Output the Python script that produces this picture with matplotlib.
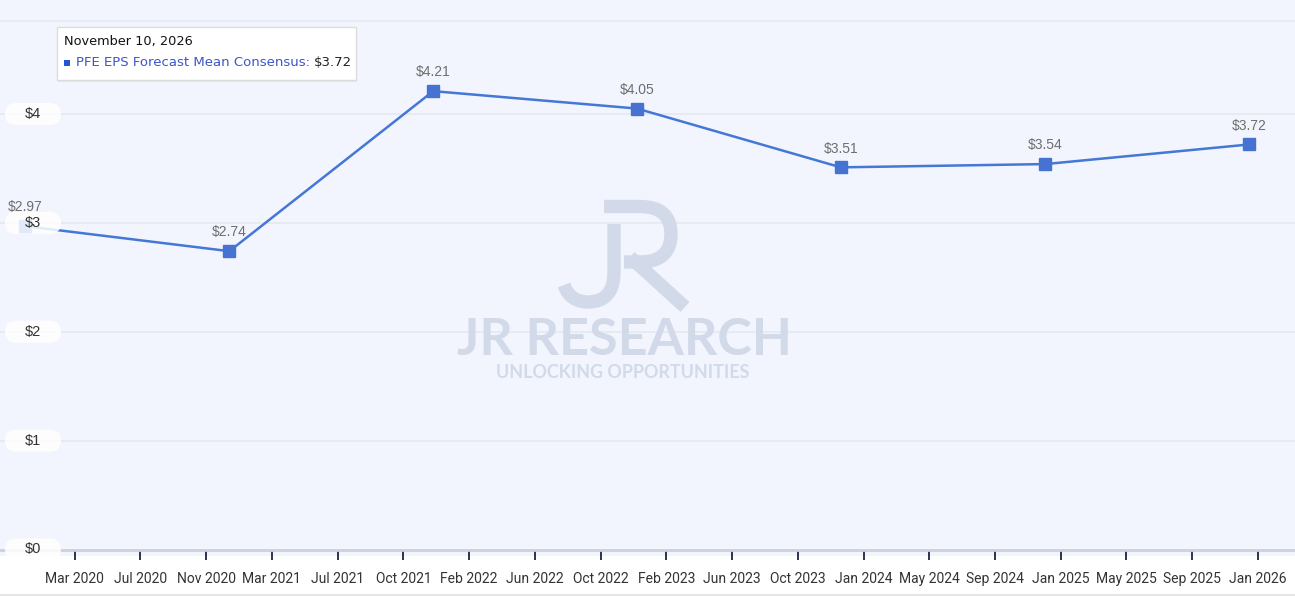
import matplotlib
matplotlib.use("Agg")
import matplotlib.pyplot as plt
import matplotlib.dates as mdates
from matplotlib.patches import FancyBboxPatch, Rectangle, PathPatch
from matplotlib.path import Path
from matplotlib.transforms import IdentityTransform
import numpy as np
import pandas as pd

# ---- data ----
point_dates = ["2019-12-03", "2020-12-03", "2021-12-03", "2022-12-03",
               "2023-12-03", "2024-12-03", "2025-12-03"]
eps_values = [2.97, 2.74, 4.21, 4.05, 3.51, 3.54, 3.72]
x_tick_labels = ["Mar 2020", "Jul 2020", "Nov 2020", "Mar 2021", "Jul 2021",
                 "Oct 2021", "Feb 2022", "Jun 2022", "Oct 2022", "Feb 2023",
                 "Jun 2023", "Oct 2023", "Jan 2024", "May 2024", "Sep 2024",
                 "Jan 2025", "May 2025", "Sep 2025", "Jan 2026"]
first_tick_date = "2020-03-01"
last_tick_date = "2025-12-19"
y_ticks = [0, 1, 2, 3, 4]
y_tick_labels = ["$0", "$1", "$2", "$3", "$4"]
tooltip_date = "November 10, 2026"
series_name = "PFE EPS Forecast Mean Consensus"
tooltip_value = "$3.72"

BG = "#f2f5fd"
GRID = "#e4e8f1"
LINE = "#4477d6"
MARK = "#4673d2"
LABEL = "#6e6e6e"
WM = "#d2d9e8"

W, H = 1295, 596
fig = plt.figure(figsize=(W / 100, H / 100), dpi=100)
fig.patch.set_facecolor("white")

# light background band (extends a bit below axis line)
fig.patches.append(Rectangle((0, (H - 556) / H), 1, 556 / H, transform=fig.transFigure,
                             facecolor=BG, edgecolor="none", zorder=-5))
# bottom thin line
fig.lines.append(plt.Line2D([0, 1], [1.5 / H, 1.5 / H], transform=fig.transFigure,
                            color="#e0e0e0", lw=1.2, zorder=-5))

ax_bottom = (H - 549.5) / H
ax = fig.add_axes([0, ax_bottom, 1, 1 - ax_bottom])
ax.set_zorder(1)
ax.set_facecolor(BG)

x = mdates.date2num(pd.to_datetime(point_dates))
span_px = 1249 - 25
px_per_day = span_px / (x[-1] - x[0])
ax.set_xlim(x[0] - 25 / px_per_day, x[-1] + 46 / px_per_day)
px_per_dollar = (549.5 - 114) / 4
ax.set_ylim(0, 549.5 / px_per_dollar)

# grid
for v in y_ticks[1:]:
    ax.axhline(v, color=GRID, lw=1.2, zorder=1)
ax.axhline(528.5 / px_per_dollar, color=GRID, lw=1.2, zorder=1)

for s in ["top", "right", "left"]:
    ax.spines[s].set_visible(False)
ax.spines["bottom"].set_color("#cdd0d8")
ax.spines["bottom"].set_linewidth(2)

tick_pos = np.linspace(mdates.date2num(pd.Timestamp(first_tick_date)),
                       mdates.date2num(pd.Timestamp(last_tick_date)), len(x_tick_labels))
ax.set_xticks(tick_pos)
ax.set_xticklabels(x_tick_labels, fontsize=10, color="#333333", family="Roboto")
ax.tick_params(axis="x", direction="out", length=7, width=1.3, color="#1c2440", pad=9)
ax.set_yticks([])

# watermark logo (decorative strokes, pixel coords from top-left)
def P(px, py):
    return (px, H - py)

j_path = Path([P(614, 224), P(614, 272), P(614, 302), P(588, 302), P(570, 302), P(564, 285)],
              [Path.MOVETO, Path.LINETO, Path.CURVE3, Path.CURVE3, Path.CURVE3, Path.CURVE3])
r_path = Path([P(604, 206.5), P(640, 206.5), P(671, 206.5), P(671, 234), P(671, 262),
               P(640, 262), P(624, 262), P(630, 257), P(685, 307)],
              [Path.MOVETO, Path.LINETO, Path.CURVE3, Path.CURVE3, Path.CURVE3,
               Path.CURVE3, Path.LINETO, Path.MOVETO, Path.LINETO])
for pth in (j_path, r_path):
    ax.add_patch(PathPatch(pth, transform=IdentityTransform(), fill=False, edgecolor=WM,
                           lw=9.6, capstyle="butt", joinstyle="miter", zorder=1,
                           clip_on=False))
ax.text(0.4819, 0.381, "JR RESEARCH", transform=ax.transAxes, ha="center", va="center",
        fontsize=37.5, color=WM, family="Lato", fontweight="bold", zorder=1)
ax.text(0.4807, 0.323, "UNLOCKING OPPORTUNITIES", transform=ax.transAxes, ha="center",
        va="center", fontsize=12.9, color=WM, family="Lato", fontweight="bold", zorder=1)

# series
ax.plot(x, eps_values, color=LINE, lw=1.8, zorder=3, clip_on=False)
ax.plot(x, eps_values, ls="none", marker="s", markersize=8.5, color=MARK, zorder=4,
        clip_on=False)
for xi, v in zip(x, eps_values):
    ax.annotate(f"${v:.2f}", (xi, v), xytext=(0, 8.5), textcoords="offset points",
                ha="center", va="bottom", fontsize=10, color=LABEL,
                family="Liberation Sans", zorder=5)

# y-axis pill labels
fig.canvas.draw()
for v, lab in zip(y_ticks, y_tick_labels):
    yd = ax.transData.transform((0, v))[1]
    p = FancyBboxPatch((5, yd - 11), 56, 22, boxstyle="round,pad=0,rounding_size=11",
                       transform=IdentityTransform(), facecolor="white", edgecolor="none",
                       alpha=0.85, zorder=6, clip_on=False)
    ax.add_patch(p)
    ax.text(33, yd, lab, transform=IdentityTransform(), ha="center", va="center",
            fontsize=10.5, color="#333333", family="Liberation Sans", zorder=7)

# tooltip (with faint shadow)
ax.add_patch(FancyBboxPatch((58, H - 82), 299, 53, boxstyle="square,pad=0",
                            transform=IdentityTransform(), facecolor="#e6e8ee",
                            edgecolor="none", zorder=7.5, clip_on=False))
tb = FancyBboxPatch((57, H - 80), 299, 53, boxstyle="square,pad=0",
                    transform=IdentityTransform(), facecolor="white",
                    edgecolor="#dcdcdc", lw=1, zorder=8, clip_on=False)
ax.add_patch(tb)
ax.text(64, H - 42, tooltip_date, transform=IdentityTransform(), ha="left", va="center",
        fontsize=9.3, color="#111111", family="DejaVu Sans", zorder=9)
ax.add_patch(Rectangle((64, H - 66), 6, 6, transform=IdentityTransform(),
                       facecolor="#2355d4", edgecolor="none", zorder=9, clip_on=False))
t1 = ax.text(76, H - 63, series_name + ": ", transform=IdentityTransform(), ha="left",
             va="center", fontsize=9.5, color="#3c55c8", family="DejaVu Sans", zorder=9)
fig.canvas.draw()
bb = t1.get_window_extent()
ax.text(bb.x1, H - 63, tooltip_value, transform=IdentityTransform(), ha="left",
        va="center", fontsize=9.5, color="#222222", family="DejaVu Sans", zorder=9)

fig.savefig("out.png", dpi=100, facecolor=fig.get_facecolor())
